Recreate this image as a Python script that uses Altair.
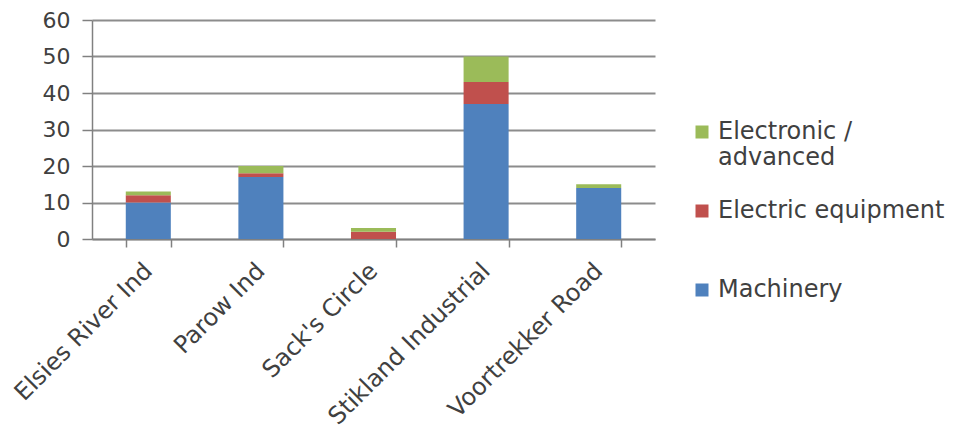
import altair as alt
import pandas as pd

areas = ["Elsies River Ind", "Parow Ind", "Sack's Circle", "Stikland Industrial", "Voortrekker Road"]
machinery = [10, 17, 0, 37, 14]
electric = [2, 1, 2, 6, 0]
electronic = [1, 2, 1, 7, 1]
series = ["Machinery", "Electric equipment", "Electronic / advanced"]
colors = ["#4F81BD", "#C0504D", "#9BBB59"]
y_ticks = [0, 10, 20, 30, 40, 50, 60]

rows = []
for i, a in enumerate(areas):
    for s, vals in zip(series, [machinery, electric, electronic]):
        rows.append({"area": a, "series": s, "value": vals[i], "order": series.index(s)})
df = pd.DataFrame(rows)

FONT = "DejaVu Sans"

chart = alt.Chart(df).mark_bar().encode(
    x=alt.X("area:N", sort=areas, title=None,
            scale=alt.Scale(paddingInner=0.6, paddingOuter=0.3),
            axis=alt.Axis(labelAngle=-45, labelAlign="right", labelBaseline="middle",
                          tickBand="extent", tickSize=8, tickColor="#808080", tickWidth=1.5,
                          domainColor="#808080", domainWidth=1.5, labelPadding=20, labelLimit=400,
                          labelFontSize=24, labelColor="#404040", labelFont=FONT)),
    y=alt.Y("value:Q", title=None,
            scale=alt.Scale(domain=[0, 60], nice=False),
            axis=alt.Axis(values=y_ticks, tickSize=10, tickColor="#808080", tickWidth=1.5,
                          domainColor="#808080", domainWidth=1.5,
                          gridColor="#8c8c8c", gridWidth=2,
                          labelFontSize=22, labelColor="#404040", labelFont=FONT, labelPadding=12)),
    color=alt.Color("series:N",
                    scale=alt.Scale(domain=list(reversed(series)), range=list(reversed(colors))),
                    legend=alt.Legend(title=None, orient="none", legendX=598, legendY=100,
                                      symbolType="square", symbolSize=169, symbolStrokeWidth=0,
                                      labelFontSize=24, labelColor="#404040", labelFont=FONT,
                                      labelLimit=400, rowPadding=29, labelOffset=4,
                                      labelExpr="datum.label == 'Electronic / advanced' ? ['Electronic /', 'advanced'] : datum.label == 'Electric equipment' ? ['Electric equipment', ''] : datum.label")),
    order=alt.Order("order:Q", sort="ascending"),
).properties(
    width=563, height=219,
    autosize=alt.AutoSizeParams(type="none"),
    padding={"left": 84, "top": 12, "right": 300, "bottom": 190},
).configure_view(stroke=None)

chart.save("out.html", embed_options={"renderer": "svg", "actions": False})
